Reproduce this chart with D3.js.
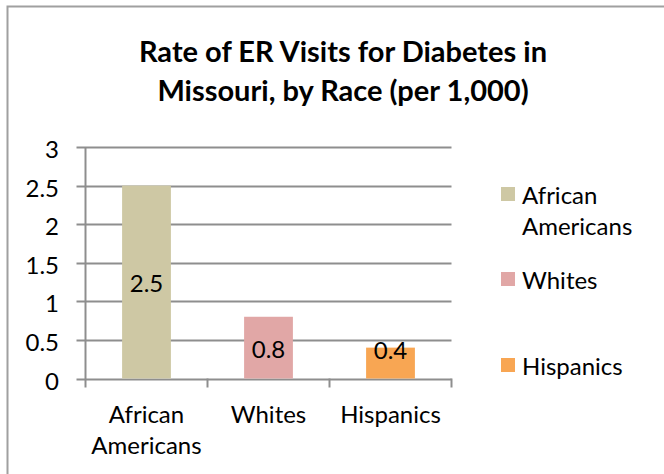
<!DOCTYPE html>
<html><head><meta charset="utf-8">
<script src="https://cdn.jsdelivr.net/npm/d3@7"></script>
<style>body{margin:0;background:#fff}svg{display:block}text{font-family:Lato,"Open Sans",sans-serif;fill:#000}</style>
</head><body><svg id="c" width="664" height="474"></svg>
<script>
const categories = ["African Americans", "Whites", "Hispanics"];
const values = [2.5, 0.8, 0.4];
const colors = ["#CEC8A4", "#E1A7A6", "#F8A653"];
const yTicks = [0, 0.5, 1, 1.5, 2, 2.5, 3];
const yTickLabels = ["0", "0.5", "1", "1.5", "2", "2.5", "3"];
const titleLines = ["Rate of ER Visits for Diabetes in", "Missouri, by Race (per 1,000)"];
const xLabelLines = [["African", "Americans"], ["Whites"], ["Hispanics"]];
const legendLines = [["African", "Americans"], ["Whites"], ["Hispanics"]];

(function () {
const svg = d3.select("#c");
const fs = 24;
svg.append("rect").attr("x", 7.5).attr("y", 6.5).attr("width", 700).attr("height", 500)
  .attr("fill", "none").attr("stroke", "#a0a0a0").attr("stroke-width", 2);

const pl = 85.5, pr = 451.5, pt = 147, pb = 378.5;
const y = d3.scaleLinear().domain([0, 3]).range([pb, pt]);
const x = d3.scaleBand().domain(categories).range([pl, pr]).paddingInner(0.6).paddingOuter(0.3);
const xb = d3.scaleBand().domain(categories).range([pl, pr]).padding(0);

svg.append("g").selectAll("line").data(yTicks).join("line")
  .attr("x1", pl - 9).attr("x2", pr).attr("y1", d => Math.round(y(d)) + 0.5).attr("y2", d => Math.round(y(d)) + 0.5)
  .attr("stroke", "#8e8e8e").attr("stroke-width", 2);
svg.append("line").attr("x1", pl).attr("x2", pl).attr("y1", pt).attr("y2", pb + 9)
  .attr("stroke", "#8e8e8e").attr("stroke-width", 2);
const bounds = categories.map(c => xb(c)).concat([pr]);
svg.append("g").selectAll("line").data(bounds.slice(1)).join("line")
  .attr("x1", d => d).attr("x2", d => d).attr("y1", pb).attr("y2", pb + 9)
  .attr("stroke", "#8e8e8e").attr("stroke-width", 2);

svg.append("g").selectAll("rect").data(values).join("rect")
  .attr("x", (d, i) => x(categories[i])).attr("width", x.bandwidth())
  .attr("y", d => y(d)).attr("height", d => pb - y(d))
  .attr("fill", (d, i) => colors[i]);

svg.append("g").selectAll("text").data(yTicks).join("text")
  .attr("x", 59).attr("y", d => y(d) + 11).attr("text-anchor", "end")
  .attr("font-size", fs).text((d, i) => yTickLabels[i]);

xLabelLines.forEach((lines, i) => {
  const cx = x(categories[i]) + x.bandwidth() / 2;
  lines.forEach((ln, j) => {
    svg.append("text").attr("x", cx).attr("y", 423 + j * 31).attr("text-anchor", "middle")
      .attr("font-size", fs).text(ln);
  });
});

svg.append("g").selectAll("text").data(values).join("text")
  .attr("x", (d, i) => x(categories[i]) + x.bandwidth() / 2)
  .attr("y", d => Math.min((y(d) + pb) / 2 + 10, pb - 20))
  .attr("text-anchor", "middle").attr("font-size", fs).text(d => d);

titleLines.forEach((t, i) => {
  svg.append("text").attr("x", 343).attr("y", 62 + i * 39).attr("text-anchor", "middle")
    .attr("font-size", 29).attr("font-weight", "bold").text(t);
});

const legY = [187, 272, 358];
legendLines.forEach((lines, i) => {
  svg.append("rect").attr("x", 501).attr("y", legY[i]).attr("width", 14).attr("height", 14).attr("fill", colors[i]);
  lines.forEach((ln, j) => {
    svg.append("text").attr("x", 522).attr("y", legY[i] + 17 + j * 31).attr("font-size", fs).text(ln);
  });
});
})();
</script></body></html>
